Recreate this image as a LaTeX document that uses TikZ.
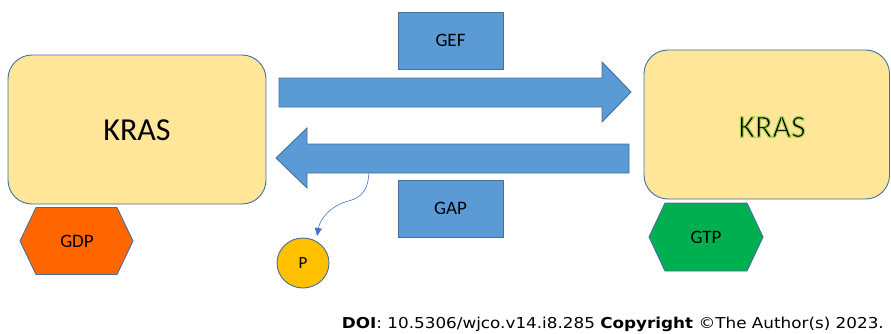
\documentclass[tikz,border=0pt]{standalone}
\usepackage{fontspec}
\setmainfont{Carlito}
\newfontfamily\doifont{DejaVu Sans}
\usepackage{tikz}
\usetikzlibrary{calc,positioning,arrows.meta,shapes.geometric}
\definecolor{krasfill}{HTML}{FFE699}
\definecolor{edgeblue}{HTML}{41719C}
\definecolor{boxblue}{HTML}{5B9BD5}
\definecolor{gdporange}{HTML}{FF6600}
\definecolor{gtpgreen}{HTML}{00B050}
\definecolor{pyellow}{HTML}{FFC000}
\definecolor{thinblue}{HTML}{4472C4}
% green glow round the active KRAS label (stroked text)
\newcommand{\glowtext}[1]{%
  \special{pdf:literal direct 2 Tr 1.1 w 0.66 0.84 0.30 RG}#1\special{pdf:literal direct 0 Tr}}
\tikzset{
  kras/.style={
    draw=edgeblue,
    line width=0.9pt,
    fill=krasfill,
    rounded corners=24pt
  },
  enzyme/.style={
    draw=edgeblue,
    line width=0.9pt,
    fill=boxblue,
    minimum width=105pt,
    minimum height=57pt,
    inner sep=0pt,
    font=\fontsize{19}{22}\selectfont
  },
  blockarrow/.style={draw=edgeblue, line width=0.9pt, fill=boxblue, line join=miter},
  nucl/.style={draw=edgeblue, line width=0.9pt, line join=miter},
  nlbl/.style={inner sep=0pt, font=\fontsize{19}{22}\selectfont},
  bigl/.style={inner sep=0pt, font=\fontsize{32}{36}\selectfont},
  phos/.style={
    ellipse,
    draw=edgeblue,
    line width=0.9pt,
    fill=pyellow,
    minimum width=52pt,
    minimum height=50pt,
    inner sep=0pt,
    font=\fontsize{17}{20}\selectfont
  },
  release/.style={draw=thinblue, line width=0.6pt, -{Triangle[width=7pt,length=8pt]}},
}
\begin{document}
\begin{tikzpicture}[x=1pt,y=-1pt]
  \useasboundingbox (0,0) rectangle (891,333);
  % KRAS boxes
  \draw[kras] (8,55) rectangle (266,204);
  \node[bigl] (krasL) at (137,130) {KRAS};
  \draw[kras] (644,50) rectangle (889.5,199);
  \node[bigl] (krasR) at (772,127) {\glowtext{KRAS}};
  % bound nucleotides
  \coordinate (gdpc) at (77,241);
  \draw[nucl, fill=gdporange] ($(gdpc)+(-57,0)$) -- ($(gdpc)+(-41,-33.5)$) -- ($(gdpc)+(40,-33.5)$)
    -- ($(gdpc)+(56,0)$) -- ($(gdpc)+(40,33.5)$) -- ($(gdpc)+(-41,33.5)$) -- cycle;
  \node[nlbl] (gdp) at (gdpc) {GDP};
  \coordinate (gtpc) at (706,237);
  \draw[nucl, fill=gtpgreen] ($(gtpc)+(-57,0)$) -- ($(gtpc)+(-41,-34)$) -- ($(gtpc)+(41,-34)$)
    -- ($(gtpc)+(57,0)$) -- ($(gtpc)+(41,34)$) -- ($(gtpc)+(-41,34)$) -- cycle;
  \node[nlbl] (gtp) at (gtpc) {GTP};
  % exchange arrows
  \draw[blockarrow] (279,78) -- (602,78) -- (602,62) -- (631,92) -- (602,122) -- (602,107)
    -- (279,107) -- cycle;
  \draw[blockarrow] (629,144) -- (307,144) -- (307,128) -- (276,158) -- (307,188) -- (307,173)
    -- (629,173) -- cycle;
  \node[enzyme] (gef) at (450.5,40.5) {GEF};
  \node[enzyme] (gap) at (450.5,208.5) {GAP};
  % phosphate release
  \node[phos] (pi) at (303,263) {P};
  \coordinate (rel) at (369,172);
  \coordinate (tip) at (317,236);
  \draw[release] (rel) .. controls (368,196) and (356,199) .. (345,202)
    .. controls (330,207) and (320,219) .. (tip);
  % credit line
  \node[inner sep=0pt, anchor=base east, font=\doifont\fontsize{15}{17}\selectfont] (doi) at (884,328)
    {\scalebox{1.12}[1]{\textbf{DOI}: 10.5306/wjco.v14.i8.285 \textbf{Copyright} ©The Author(s) 2023.}};
\end{tikzpicture}
\end{document}
